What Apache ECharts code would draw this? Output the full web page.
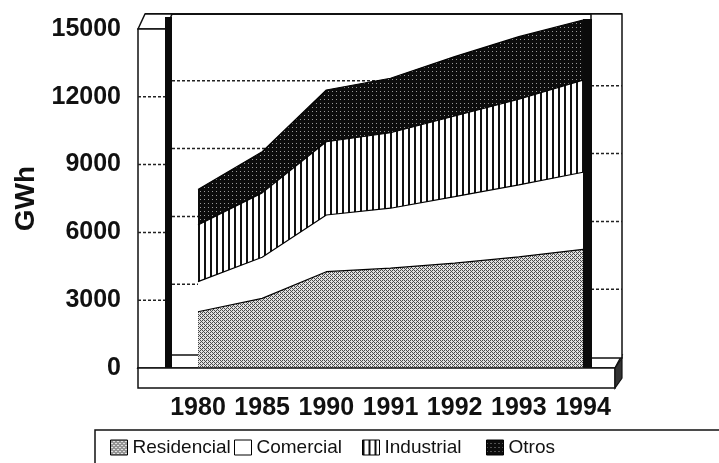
<!DOCTYPE html>
<html>
<head>
<meta charset="utf-8">
<script src="https://cdn.jsdelivr.net/npm/echarts@6/dist/echarts.min.js"></script>
<style>
html,body{margin:0;padding:0;background:#fff;}
#chart{width:719px;height:463px;}
</style>
</head>
<body>
<div id="chart"></div>
<script>
// ---- Data (GWh) ----
const years = ['1980', '1985', '1990', '1991', '1992', '1993', '1994'];
const residencial = [2490, 3080, 4260, 4420, 4640, 4920, 5250];
const comercial   = [1330, 1820, 2510, 2650, 2940, 3180, 3410];
const industrial  = [2510, 2850, 3240, 3340, 3570, 3790, 4080];
const otros       = [1570, 1820, 2290, 2410, 2630, 2770, 2660];
const yTicks = [0, 3000, 6000, 9000, 12000, 15000];
const seriesNames = ['Residencial', 'Comercial', 'Industrial', 'Otros'];

// ---- Fill patterns (deterministic) ----
const bayer = [[0,8,2,10],[12,4,14,6],[3,11,1,9],[15,7,13,5]];
function ditherCanvas(dark, light, threshold) {
  const c = document.createElement('canvas');
  c.width = 4; c.height = 4;
  const g = c.getContext('2d');
  g.fillStyle = light; g.fillRect(0, 0, 4, 4);
  g.fillStyle = dark;
  for (let y = 0; y < 4; y++) for (let x = 0; x < 4; x++) {
    if (bayer[y][x] < threshold) g.fillRect(x, y, 1, 1);
  }
  return c;
}
function stripeCanvas() {
  const c = document.createElement('canvas');
  c.width = 6; c.height = 2;
  const g = c.getContext('2d');
  g.fillStyle = '#ffffff'; g.fillRect(0, 0, 6, 2);
  g.fillStyle = '#111111'; g.fillRect(0, 0, 2, 2);
  return c;
}
const patRes = { image: ditherCanvas('#4a4a4a', '#e0e0e0', 6), repeat: 'repeat' };
const patCom = '#ffffff';
const patInd = { image: stripeCanvas(), repeat: 'repeat' };
const patOtr = { image: ditherCanvas('#0c0c0c', '#9a9a9a', 15), repeat: 'repeat' };
const fills = [patRes, patCom, patInd, patOtr];
const values = [residencial, comercial, industrial, otros];

const FONT = '"Liberation Sans", Arial, sans-serif';
const chart = echarts.init(document.getElementById('chart'), null, { renderer: 'canvas' });

const legendLefts = [110, 234, 362, 486];
const option = {
  animation: false,
  backgroundColor: '#ffffff',
  grid: { left: 198, right: 136, top: 29, bottom: 95, containLabel: false },
  xAxis: {
    type: 'category',
    data: years,
    boundaryGap: false,
    axisLine: { show: false },
    axisTick: { show: false },
    axisLabel: { interval: 0, hideOverlap: false, margin: 28, fontFamily: FONT, fontSize: 25, fontWeight: 'bold', color: '#111' }
  },
  yAxis: {
    type: 'value',
    min: yTicks[0],
    max: yTicks[yTicks.length - 1],
    interval: 3000,
    name: 'GWh',
    nameLocation: 'middle',
    nameGap: 150,
    nameRotate: 90,
    nameTextStyle: { fontFamily: FONT, fontSize: 28, fontWeight: 'bold', color: '#111' },
    axisLine: { show: false },
    axisTick: { show: false },
    splitLine: { show: false },
    axisLabel: { margin: 77, formatter: v => String(v), fontFamily: FONT, fontSize: 25, fontWeight: 'bold', color: '#111' }
  },
  legend: seriesNames.map((n, i) => ({
    data: [{ name: n, icon: 'rect', itemStyle: { color: fills[i], borderColor: '#000', borderWidth: 1 } }],
    left: legendLefts[i],
    top: 438,
    padding: 0,
    itemWidth: 17,
    itemHeight: 15,
    selectedMode: false,
    textStyle: { fontFamily: FONT, fontSize: 19, color: '#111' }
  })),
  series: seriesNames.map((n, i) => ({
    name: n,
    type: 'line',
    stack: 'total',
    data: values[i],
    showSymbol: false,
    symbol: 'none',
    clip: false,
    z: 2,
    lineStyle: { color: '#000', width: 1.2 },
    itemStyle: { color: '#000' },
    areaStyle: { color: fills[i], opacity: 1 }
  }))
};
chart.setOption(option);

// ---- 3D walls and floor, positioned from the axes ----
const px = (i, v) => chart.convertToPixel({ gridIndex: 0 }, [i, v]);
const X0 = px(0, 0)[0], X1 = px(years.length - 1, 0)[0];
const Y0 = px(0, 0)[1], YT = px(0, 15000)[1];
const DY = 15;
const topLine = YT - DY;
const LW = X0 - 60, LR = X0 - 32;
const RW = X1 + 8, RR = X1 + 39;
const FR = X1 + 32;
const dash = [3, 2];
const g = [];
const mid = yTicks.slice(1, -1);
mid.forEach(v => {
  const y = px(0, v)[1] - 16;
  g.push({ type: 'line', z: 0, shape: { x1: LR + 6, y1: y, x2: X1, y2: y }, style: { stroke: '#222', lineWidth: 1.5, lineDash: dash } });
});
g.push({ type: 'polygon', z: 0, shape: { points: [[LW, Y0], [LW + 10, Y0 - 13], [RR, Y0 - 13], [FR, Y0]] }, style: { fill: '#fff', stroke: '#111', lineWidth: 1.5 } });
g.push({ type: 'line', z: 10, shape: { x1: LW + 7, y1: topLine, x2: RR, y2: topLine }, style: { stroke: '#111', lineWidth: 2 } });
g.push({ type: 'polygon', z: 10, shape: { points: [[LW, YT], [LW + 7, topLine], [LR + 6, topLine], [LR, YT]] }, style: { fill: '#fff', stroke: '#111', lineWidth: 1.5 } });
g.push({ type: 'rect', z: 10, shape: { x: LW, y: YT, width: LR - LW, height: Y0 - YT }, style: { fill: '#fff', stroke: '#111', lineWidth: 1.5 } });
mid.forEach(v => {
  const y = px(0, v)[1];
  g.push({ type: 'line', z: 11, shape: { x1: LW, y1: y, x2: LR, y2: y }, style: { stroke: '#222', lineWidth: 1.5, lineDash: dash } });
});
g.push({ type: 'rect', z: 11, shape: { x: LR - 1, y: topLine + 3, width: 7, height: Y0 - topLine - 3 }, style: { fill: '#0a0a0a' } });
g.push({ type: 'rect', z: 10, shape: { x: RW, y: topLine, width: RR - RW, height: Y0 - 10 - topLine }, style: { fill: '#fff', stroke: '#111', lineWidth: 1.5 } });
mid.forEach(v => {
  const y = px(0, v)[1] - 11;
  g.push({ type: 'line', z: 11, shape: { x1: RW, y1: y, x2: RR, y2: y }, style: { stroke: '#222', lineWidth: 1.5, lineDash: dash } });
});
g.push({ type: 'rect', z: 11, shape: { x: X1, y: topLine + 5, width: RW - X1 + 1, height: Y0 - topLine - 5 }, style: { fill: '#0a0a0a' } });
g.push({ type: 'rect', z: 12, shape: { x: LW, y: Y0, width: FR - LW, height: 20 }, style: { fill: '#fff', stroke: '#111', lineWidth: 1.5 } });
g.push({ type: 'polygon', z: 12, shape: { points: [[FR, Y0], [RR, Y0 - 10], [RR, Y0 + 10], [FR, Y0 + 20]] }, style: { fill: '#333', stroke: '#111', lineWidth: 1.2 } });
g.push({ type: 'rect', z: 5, shape: { x: 95, y: 430, width: 640, height: 45 }, style: { fill: 'none', stroke: '#111', lineWidth: 1.5 } });

chart.setOption({ graphic: g });
</script>
</body>
</html>
